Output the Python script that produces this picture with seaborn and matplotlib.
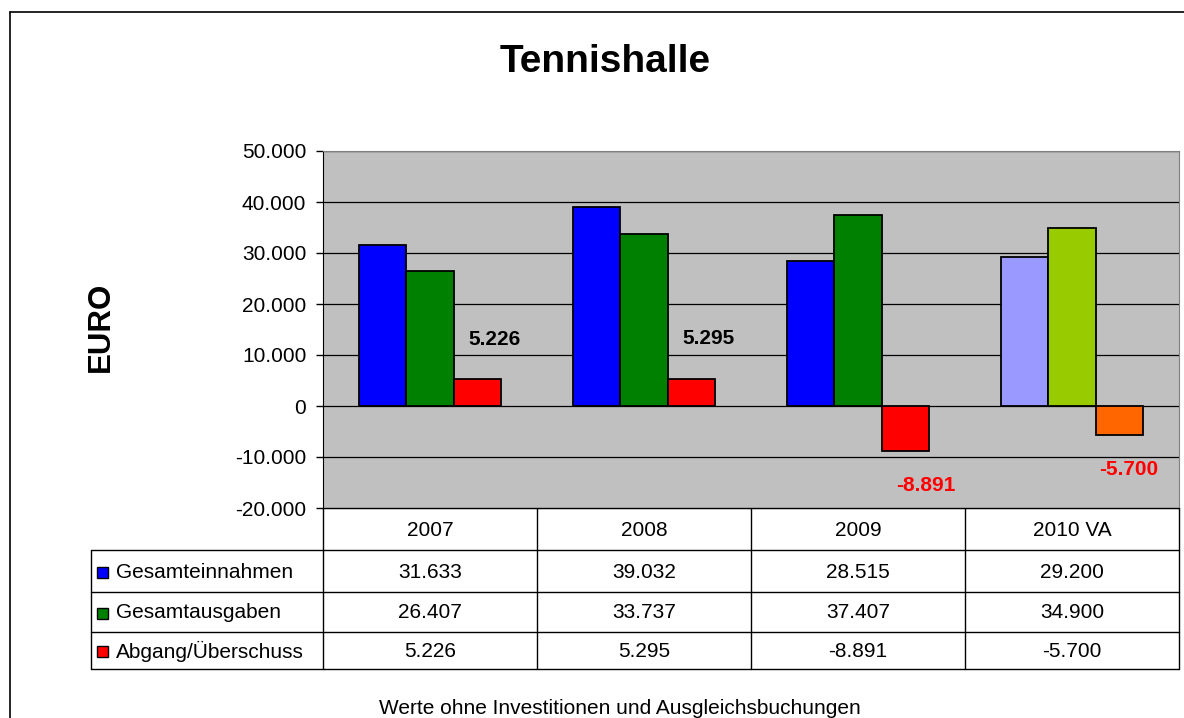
import numpy as np
import pandas as pd
import matplotlib
matplotlib.use('Agg')
import matplotlib.pyplot as plt
import seaborn as sns
from matplotlib.ticker import FuncFormatter, MultipleLocator

years = ['2007', '2008', '2009', '2010 VA']
series = ['Gesamteinnahmen', 'Gesamtausgaben', 'Abgang/Überschuss']
einnahmen = [31633, 39032, 28515, 29200]
ausgaben = [26407, 33737, 37407, 34900]
abgang = [5226, 5295, -8891, -5700]

colors = ['#0000FF', '#008000', '#FF0000']
colors_2010 = ['#9999FF', '#99CC00', '#FF6600']


def de(v):
    return f'{int(round(v)):,}'.replace(',', '.')


df = pd.DataFrame({
    'Jahr': years * 3,
    'Reihe': [s for s in series for _ in years],
    'Wert': einnahmen + ausgaben + abgang,
})

sns.set_style('white')
plt.rcParams['font.family'] = ['Liberation Sans', 'DejaVu Sans']
plt.rcParams['text.color'] = 'black'
plt.rcParams['axes.labelcolor'] = 'black'
plt.rcParams['ytick.color'] = 'black'

W, H = 1184, 718
fig = plt.figure(figsize=(W / 100, H / 100), dpi=100)

# overlay for frame + table, in pixel coords
bg = fig.add_axes([0, 0, 1, 1])
bg.set_xlim(0, W)
bg.set_ylim(H, 0)
bg.axis('off')

L, T, R, B = 323, 151, 1179, 508
ax = fig.add_axes([L / W, (H - B) / H, (R - L) / W, (B - T) / H])
ax.set_facecolor('#C0C0C0')
sns.barplot(data=df, x='Jahr', y='Wert', hue='Reihe', palette=colors,
            width=0.66, saturation=1, edgecolor='black', linewidth=1.3,
            legend=False, ax=ax, zorder=3)
for h, cont in enumerate(ax.containers):
    cont[3].set_facecolor(colors_2010[h])

ax.set_ylim(-20000, 50000)
ax.set_xlim(-0.5, 3.5)
ax.yaxis.set_major_locator(MultipleLocator(10000))
ax.yaxis.set_major_formatter(FuncFormatter(lambda v, p: de(v)))
ax.grid(axis='y', color='black', linewidth=0.9, zorder=0)
ax.set_axisbelow(True)
ax.set_xticks([])
ax.set_xlabel('')
ax.set_ylabel('')
ax.tick_params(axis='y', labelsize=15, length=5, width=1, direction='out',
               left=True, pad=7, colors='black')
for s in ['top', 'right']:
    ax.spines[s].set_color('#808080')
ax.spines['left'].set_color('black')
ax.spines['bottom'].set_color('black')

# data labels for the Abgang series (Excel-like placement)
label_dx = [17, 17, 21, 10]
for i, v in enumerate(abgang):
    bar = ax.containers[2][i]
    cx = bar.get_x() + bar.get_width() / 2
    if v >= 0:
        ax.annotate(de(v), (cx, v), xytext=(label_dx[i], 40),
                    textcoords='offset pixels', ha='center', va='center',
                    fontsize=15, fontweight='bold', color='black')
    else:
        ax.annotate(de(v), (cx, v), xytext=(label_dx[i], -34),
                    textcoords='offset pixels', ha='center', va='center',
                    fontsize=15, fontweight='bold', color='#FF0000')

fig.canvas.draw()
# column edges from the bar axes scale
edges = [ax.transData.transform((x, 0))[0] for x in np.arange(-0.5, 4, 1)]
rows = [508, 550, 592, 632, 669]
tl = 91
lw = 1.0
bg.plot([edges[0], edges[-1]], [rows[0], rows[0]], color='black', lw=lw)
for y in rows[1:]:
    bg.plot([tl, edges[-1]], [y, y], color='black', lw=lw)
for e in edges:
    bg.plot([e, e], [rows[0], rows[-1]], color='black', lw=lw)
bg.plot([tl, tl], [rows[1], rows[-1]], color='black', lw=lw)

for j, yr in enumerate(years):
    bg.text((edges[j] + edges[j + 1]) / 2, (rows[0] + rows[1]) / 2 + 1, yr,
            ha='center', va='center', fontsize=15)
vals = [einnahmen, ausgaben, abgang]
for r, name in enumerate(series):
    yc = (rows[r + 1] + rows[r + 2]) / 2 + 1
    bg.add_patch(plt.Rectangle((97, yc - 5.5), 11, 11, facecolor=colors[r],
                               edgecolor='black', lw=1))
    bg.text(116, yc, name, ha='left', va='center', fontsize=15)
    for j in range(len(years)):
        bg.text((edges[j] + edges[j + 1]) / 2, yc, de(vals[r][j]),
                ha='center', va='center', fontsize=15)

# outer frame (runs off the image at right/bottom)
bg.plot([10, 10], [12, H], color='black', lw=1.2)
bg.plot([10, W], [12, 12], color='black', lw=1.2)

bg.text(605, 62, 'Tennishalle', ha='center', va='center', fontsize=28,
        fontweight='bold')
bg.text(101, 327, 'EURO', rotation=90, ha='center', va='center',
        fontsize=22.5, fontweight='bold')
bg.text(620, 709, 'Werte ohne Investitionen und Ausgleichsbuchungen',
        ha='center', va='center', fontsize=15)

fig.savefig('out.png', dpi=100, facecolor='white')
